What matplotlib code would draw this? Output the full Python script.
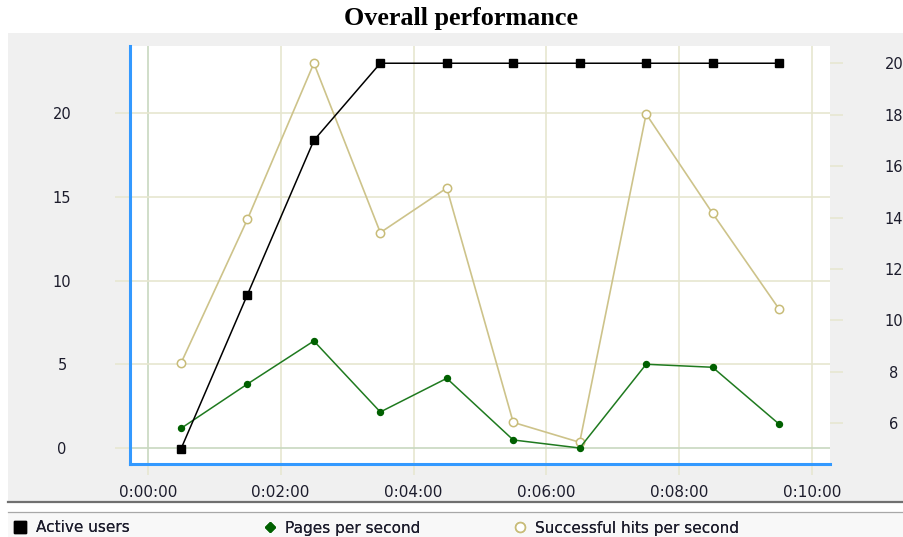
import matplotlib
matplotlib.use("Agg")
import matplotlib.pyplot as plt
from matplotlib.patches import Rectangle
from matplotlib.lines import Line2D
from matplotlib.ticker import FuncFormatter, FixedLocator

# ---- data ----
times_s = [30, 90, 150, 210, 270, 330, 390, 450, 510, 570]
active_users = [5, 11, 17, 20, 20, 20, 20, 20, 20, 20]
pages_per_second = [1.17, 3.82, 6.39, 2.15, 4.16, 0.48, 0.0, 5.0, 4.82, 1.43]
hits_per_second = [5.06, 13.65, 22.97, 12.86, 15.52, 1.53, 0.34, 19.94, 14.01, 8.3]
x_ticks = [0, 120, 240, 360, 480, 600]
left_ticks = [0, 5, 10, 15, 20]
right_ticks = [6, 8, 10, 12, 14, 16, 18, 20]
title = "Overall performance"
legend_labels = ["Active users", "Pages per second", "Successful hits per second"]

W, H = 904, 537
fig = plt.figure(figsize=(W / 100, H / 100), dpi=100)
fig.patch.set_facecolor("white")

def fx(px):
    return px / W

def fy(py):
    return 1 - py / H

# background panels
fig.patches.append(Rectangle((fx(8), fy(501)), fx(904 - 8), (501 - 33) / H,
                             transform=fig.transFigure, facecolor="#f0f0f0",
                             edgecolor="none", zorder=-10))
fig.patches.append(Rectangle((fx(8), fy(537)), fx(904 - 8), (537 - 512) / H,
                             transform=fig.transFigure, facecolor="#f8f8f8",
                             edgecolor="none", zorder=-10))
fig.lines.append(Line2D([fx(8), 1], [fy(502), fy(502)], transform=fig.transFigure,
                        color="#707070", linewidth=1.6, zorder=-5))
fig.lines.append(Line2D([fx(8), 1], [fy(511.5), fy(511.5)], transform=fig.transFigure,
                        color="#a8a8a8", linewidth=0.9, zorder=-5))

fig.text(fx(461.5), fy(18), title, ha="center", va="center",
         fontsize=18.8, fontweight="bold", family="Liberation Serif")

ax_l, ax_r_px, ax_t, ax_b = 130, 830, 46, 464
ax = fig.add_axes([fx(ax_l), fy(ax_b), (ax_r_px - ax_l) / W, (ax_b - ax_t) / H])
ax.set_facecolor("white")
ax2 = ax.twinx()

grid_c = "#e6e6cf"
zero_c = "#c8d8c0"
text_c = "#1c1c2c"

ax.set_xlim(-16, 616)
ax.set_ylim(-0.955, 24.0)
ax2.set_ylim(4.417, 20.67)

ax.xaxis.set_major_locator(FixedLocator(x_ticks))
ax.xaxis.set_major_formatter(FuncFormatter(
    lambda v, p: "%d:%02d:%02d" % (int(v) // 3600, (int(v) % 3600) // 60, int(v) % 60)))
ax.yaxis.set_major_locator(FixedLocator(left_ticks))
ax2.yaxis.set_major_locator(FixedLocator(right_ticks))

ax.grid(True, color=grid_c, linewidth=1.2)
ax.set_axisbelow(True)

ax.tick_params(axis="x", direction="out", length=8, width=1.1, color=grid_c,
               pad=7, labelsize=11, labelcolor=text_c)
ax.tick_params(axis="y", direction="out", length=11, width=1.1, color=grid_c,
               pad=38, labelsize=10.5, labelcolor=text_c)
for lab in ax.get_yticklabels():
    lab.set_horizontalalignment("center")
ax2.tick_params(axis="y", direction="out", length=9, width=1.1, color=grid_c,
                pad=37, labelsize=10.5, labelcolor=text_c)
for lab in ax2.get_yticklabels():
    lab.set_horizontalalignment("center")

# colour the zero gridlines greenish
for gl, v in zip(ax.get_ygridlines(), left_ticks):
    if v == 0:
        gl.set_color(zero_c)
for gl, v in zip(ax.get_xgridlines(), x_ticks):
    if v == 0:
        gl.set_color(zero_c)
xt = ax.xaxis.get_major_ticks()
xt[0].tick1line.set_color(zero_c)

for s in ["top", "right"]:
    ax.spines[s].set_visible(False)
    ax2.spines[s].set_visible(False)
for a in (ax, ax2):
    a.spines["left"].set_visible(False)
    a.spines["bottom"].set_visible(False)
ax.spines["left"].set_visible(True)
ax.spines["left"].set_color("#3399ff")
ax.spines["left"].set_linewidth(2.2)
ax.spines["bottom"].set_visible(True)
ax.spines["bottom"].set_color("#3399ff")
ax.spines["bottom"].set_linewidth(2.2)

hits_c = "#cdc38a"
green_c = "#1f7a1f"
l_hits, = ax.plot(times_s, hits_per_second, color=hits_c, linewidth=1.2,
                  marker="o", markersize=6, markerfacecolor="white",
                  markeredgecolor="#c8bc78", markeredgewidth=1.1, zorder=3,
                  clip_on=False)
l_pages, = ax.plot(times_s, pages_per_second, color=green_c, linewidth=1.1,
                   marker="o", markersize=4.3, markerfacecolor="#006000",
                   markeredgecolor="#006000", zorder=4, clip_on=False)
l_users, = ax2.plot(times_s, active_users, color="black", linewidth=1.1,
                    marker="s", markersize=5.6, markerfacecolor="black",
                    markeredgecolor="black", zorder=5, clip_on=False)

# legend entries as separate legends at fixed positions
handles = [
    Line2D([], [], linestyle="none", marker="s", markersize=8, color="black"),
    Line2D([], [], linestyle="none", marker="D", markersize=5, color="#006000"),
    Line2D([], [], linestyle="none", marker="o", markersize=7,
           markerfacecolor="white", markeredgecolor="#c8bc78", markeredgewidth=1.2),
]
xs = [8, 258, 508]
for h, lab, x0 in zip(handles, legend_labels, xs):
    leg = fig.legend([h], [lab], loc="center left", bbox_to_anchor=(fx(x0), fy(528)),
                     frameon=False, fontsize=11, handlelength=1.0, handletextpad=0.5,
                     borderaxespad=0, borderpad=0.3)
    for t in leg.get_texts():
        t.set_color(text_c)
    fig.add_artist(leg)

fig.savefig("out.png", dpi=100, facecolor=fig.get_facecolor())
